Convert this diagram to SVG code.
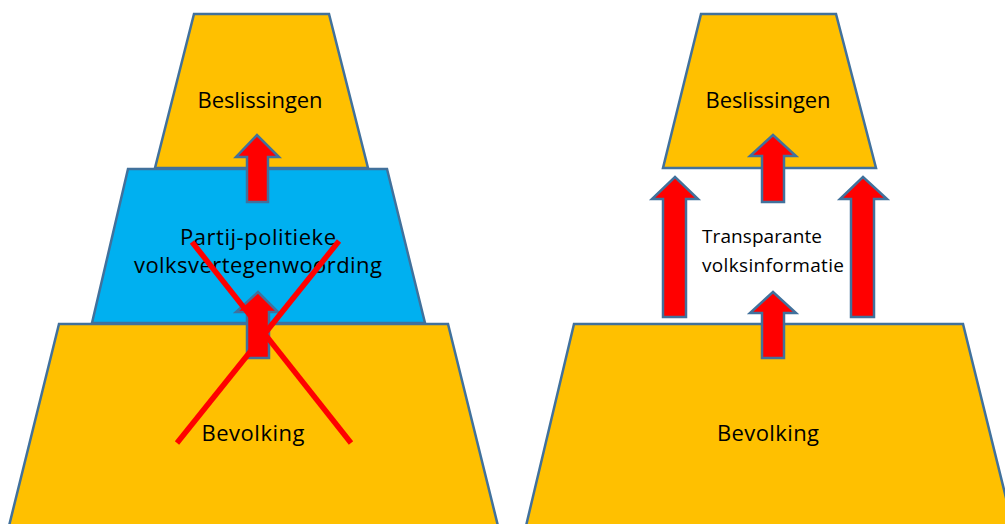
<svg xmlns="http://www.w3.org/2000/svg" width="1005" height="524" viewBox="0 0 1005 524">
<style>
.gold{fill:#FFC000;stroke:#41719C;stroke-width:2.5;stroke-linejoin:miter}
.blue{fill:#00B0F0;stroke:#41719C;stroke-width:2.5}
.arrow{fill:#FF0000;stroke:#41719C;stroke-width:2.5;stroke-linejoin:miter}
.lbl{font-family:"Open Sans","Liberation Sans",Arial,sans-serif;font-size:22px;fill:#000}
.sm{font-family:"Open Sans","Liberation Sans",Arial,sans-serif;font-size:19px;fill:#000}
.cross{stroke:#FF0000;stroke-width:5.5;fill:none}
</style>
<rect width="1005" height="524" fill="#fff"/>
<g id="left-beslissingen">
<polygon class="gold" points="194,14 329,14 368,168 155,168"/>
<text class="lbl" x="260" y="108" text-anchor="middle" textLength="125">Beslissingen</text>
</g>
<g id="left-partij">
<polygon class="blue" points="128,169 387,169 425,323 92,323"/>
<text class="lbl" x="258" y="245" text-anchor="middle" textLength="156">Partij-politieke</text>
<text class="lbl" x="258" y="273" text-anchor="middle" textLength="248">volksvertegenwoording</text>
</g>
<g id="left-bevolking">
<polygon class="gold" points="59,324 448,324 498,526 9,526"/>
<text class="lbl" x="253" y="441" text-anchor="middle" textLength="103">Bevolking</text>
</g>
<g id="right-beslissingen">
<polygon class="gold" points="701,14 836,14 876,168 663,168"/>
<text class="lbl" x="768" y="108" text-anchor="middle" textLength="125">Beslissingen</text>
</g>
<g id="right-bevolking">
<polygon class="gold" points="574,324 963,324 1013,526 526,526"/>
<text class="lbl" x="768" y="441" text-anchor="middle" textLength="102">Bevolking</text>
</g>
<g id="right-info">
<text class="sm" x="702" y="243" textLength="120">Transparante</text>
<text class="sm" x="702" y="272" textLength="142">volksinformatie</text>
</g>
<g id="connectors">
<polygon class="arrow" points="247,202 247,157 236,157 257,135 279,157 268,157 268,202"/>
<polygon class="arrow" points="247,358 247,312 236,312 258,292 278,312 269,312 269,358"/>
<polygon class="arrow" points="762,202 762,156 750,156 773,135 796,156 784,156 784,202"/>
<polygon class="arrow" points="762,358 762,313 750,313 773,292 796,313 784,313 784,358"/>
<polygon class="arrow" points="663,317 663,199 652,199 675,177 698,199 686,199 686,317"/>
<polygon class="arrow" points="851,317 851,199 840,199 863,177 887,199 874,199 874,317"/>
</g>
<g id="cross">
<line class="cross" x1="192" y1="242" x2="351" y2="443"/>
<line class="cross" x1="339" y1="241" x2="177" y2="443"/>
</g>
</svg>
